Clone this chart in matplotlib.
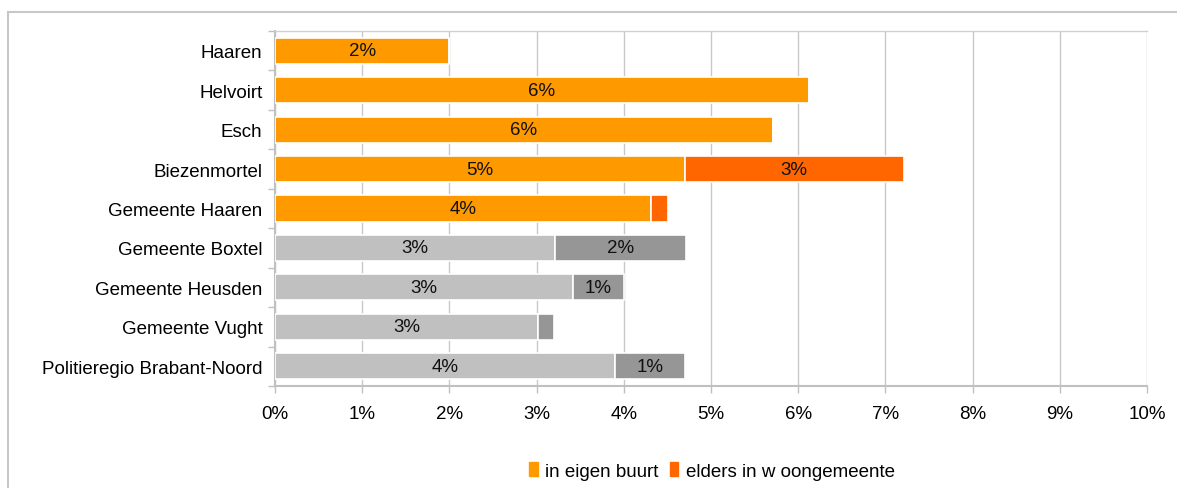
import numpy as np
import matplotlib.pyplot as plt
from matplotlib.lines import Line2D
from matplotlib.patches import Patch

plt.rcParams['font.family'] = ['Liberation Sans', 'DejaVu Sans']

categories = ['Haaren', 'Helvoirt', 'Esch', 'Biezenmortel', 'Gemeente Haaren',
              'Gemeente Boxtel', 'Gemeente Heusden', 'Gemeente Vught',
              'Politieregio Brabant-Noord']
eigen_buurt = [2.0, 6.12, 5.71, 4.70, 4.31, 3.21, 3.42, 3.02, 3.90]
elders = [0.0, 0.0, 0.0, 2.51, 0.20, 1.5, 0.58, 0.18, 0.80]
highlight = [True, True, True, True, True, False, False, False, False]
legend_labels = ['in eigen buurt', 'elders in w oongemeente']

c_light = ['#FF9900' if h else '#C0C0C0' for h in highlight]
c_dark = ['#FF6600' if h else '#969696' for h in highlight]

fs = 13.5
fig = plt.figure(figsize=(11.77, 4.89), dpi=100)
ax = fig.add_axes([275 / 1177, 1 - 387 / 489, 872 / 1177, 355 / 489])

y = np.arange(len(categories))
h = 0.66
ax.barh(y, eigen_buurt, height=h, color=c_light, edgecolor='white', linewidth=1.2, zorder=3)
ax.barh(y, elders, left=eigen_buurt, height=h, color=c_dark, edgecolor='white', linewidth=1.2, zorder=3)

for i in range(len(categories)):
    ax.text(eigen_buurt[i] / 2, y[i], f'{eigen_buurt[i]:.0f}%', ha='center', va='center',
            fontsize=fs, color='#111111', zorder=4)
    if elders[i] >= 0.5:
        ax.text(eigen_buurt[i] + elders[i] / 2, y[i], f'{elders[i]:.0f}%', ha='center',
                va='center', fontsize=fs, color='#111111', zorder=4)

ax.set_xlim(0, 10)
ax.set_ylim(len(categories) - 0.5, -0.5)
ax.set_xticks(range(11))
ax.set_xticklabels([f'{v}%' for v in range(11)], fontsize=fs)
ax.set_yticks(y)
ax.set_yticklabels(categories, fontsize=fs)
ax.set_yticks(np.arange(-0.5, len(categories)), minor=True)
ax.tick_params(axis='y', which='major', length=0, pad=9)
ax.tick_params(axis='y', which='minor', length=5, width=1, color='#c0c0c0')
ax.tick_params(axis='x', length=5, width=1, color='#c0c0c0', pad=9)
ax.grid(axis='x', color='#c8c8c8', linewidth=1, zorder=0)
for s in ['left', 'bottom']:
    ax.spines[s].set_color('#c0c0c0')
    ax.spines[s].set_linewidth(1.5)
ax.spines['top'].set_color('#d0d0d0')
ax.spines['top'].set_linewidth(1)
ax.spines['right'].set_visible(False)

# outer frame
fig.add_artist(Line2D([8 / 1177, 1], [1 - 13 / 489] * 2, color='#c8c8c8', lw=1.5))
fig.add_artist(Line2D([8 / 1177] * 2, [0, 1 - 13 / 489], color='#c8c8c8', lw=1.5))

handles = [Patch(color='#FF9900'), Patch(color='#FF6600')]
fig.legend(handles, legend_labels, loc='center', bbox_to_anchor=(712 / 1177, 1 - 472 / 489),
           ncol=2, frameon=False, fontsize=fs, handlelength=0.45, handleheight=0.7,
           handletextpad=0.4, columnspacing=0.6)

fig.savefig('out.png', dpi=100)
